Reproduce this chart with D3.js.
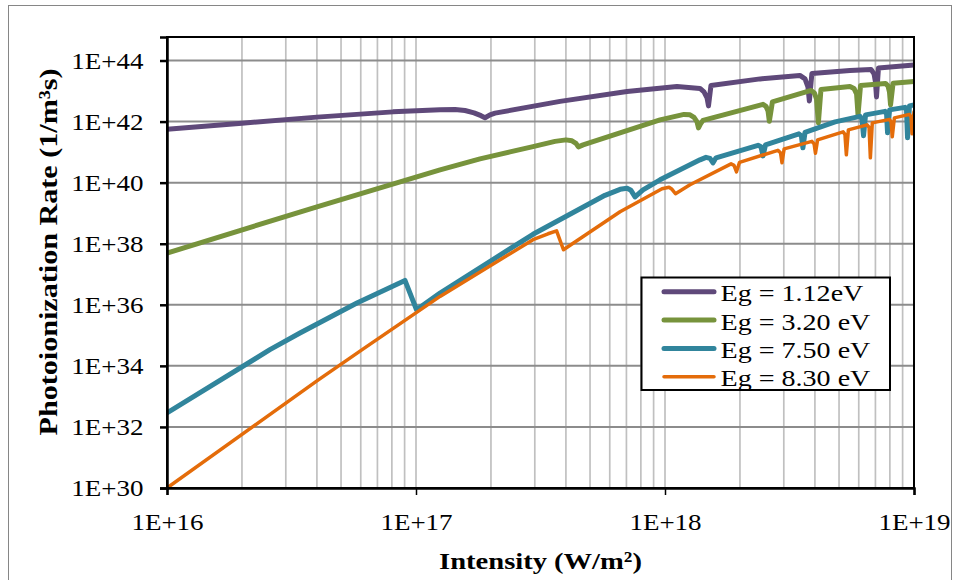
<!DOCTYPE html>
<html>
<head>
<meta charset="utf-8">
<script src="https://cdn.jsdelivr.net/npm/d3@7"></script>
<style>
  html, body { margin: 0; padding: 0; background: #ffffff; }
  svg { display: block; }
  text { font-family: "Liberation Serif", "Times New Roman", serif; fill: #000; }
</style>
</head>
<body>
<svg id="chart" width="960" height="580"></svg>
<script>
// ---- data ----------------------------------------------------------------
const seriesNames = ["Eg = 1.12eV", "Eg = 3.20 eV", "Eg = 7.50 eV", "Eg = 8.30 eV"];
const seriesColors = ["#5f497a", "#77933c", "#31859c", "#e46c0a"];

const xTickValues = [1e16, 1e17, 1e18, 1e19];
const xTickLabels = ["1E+16", "1E+17", "1E+18", "1E+19"];
const yTickValues = [1e30, 1e32, 1e34, 1e36, 1e38, 1e40, 1e42, 1e44];
const yTickLabels = ["1E+30", "1E+32", "1E+34", "1E+36", "1E+38", "1E+40", "1E+42", "1E+44"];

// Eg = 1.12 eV  (intensity in W/m^2, rate in 1/(m^3 s))
const intensity112 = [1e16, 2.0e16, 4.0e16, 8.08e16, 1.249e17, 1.435e17, 1.573e17, 1.71e17, 1.824e17, 1.893e17,
  1.983e17, 2.077e17, 3.79e17, 7.04e17, 1.117e18, 1.382e18, 1.434e18, 1.475e18, 1.495e18, 1.53e18,
  2.41e18, 3.48e18, 3.65e18, 3.75e18, 3.80e18, 3.89e18, 5.53e18, 6.72e18, 6.91e18, 7.0e18,
  7.07e18, 7.2e18, 1e19];
const rate112 = [5.65e41, 8.87e41, 1.40e42, 2.08e42, 2.45e42, 2.49e42, 2.31e42, 1.93e42, 1.56e42, 1.34e42,
  1.66e42, 1.89e42, 4.59e42, 9.6e42, 1.40e43, 1.22e43, 9.4e42, 5.97e42, 3.27e42, 1.53e43,
  2.50e43, 3.25e43, 2.50e43, 1.37e43, 4.76e42, 3.78e43, 4.74e43, 5.12e43, 3.65e43, 2.0e43,
  6.44e42, 5.73e43, 7.18e43];

// Eg = 3.20 eV
const intensity320 = [1e16, 4.0e16, 1.249e17, 1.807e17, 2.385e17, 2.95e17, 3.615e17, 4.0e17, 4.23e17, 4.39e17,
  4.49e17, 4.69e17, 5.14e17, 9.55e17, 1.192e18, 1.26e18, 1.308e18, 1.345e18, 1.363e18, 1.389e18,
  1.421e18, 2.475e18, 2.545e18, 2.593e18, 2.624e18, 2.70e18, 3.86e18, 3.98e18, 4.06e18, 4.13e18,
  4.23e18, 5.53e18, 5.74e18, 5.88e18, 5.96e18, 6.10e18, 7.68e18, 7.86e18, 7.97e18, 8.05e18,
  8.24e18, 1e19];
const rate320 = [4.94e37, 1.62e39, 2.63e40, 6.03e40, 1.02e41, 1.52e41, 2.25e41, 2.52e41, 2.34e41, 1.94e41,
  1.49e41, 1.73e41, 2.22e41, 1.14e42, 1.72e42, 1.66e42, 1.37e42, 9.8e41, 6.24e41, 8.41e41,
  1.10e42, 3.66e42, 3.15e42, 2.24e42, 1.02e42, 4.42e42, 1.05e43, 8.71e42, 5.54e42, 9.08e41,
  1.13e43, 1.42e43, 1.22e43, 8.07e42, 1.66e42, 1.53e43, 1.78e43, 1.48e43, 9.4e42, 3.52e42,
  1.81e43, 2.04e43];

// Eg = 7.50 eV
const intensity750 = [1e16, 2.59e16, 3.42e16, 5.79e16, 9.03e16, 1.005e17, 1.249e17, 2.95e17, 4.56e17, 5.74e17,
  6.6e17, 7.04e17, 7.30e17, 7.58e17, 8.16e17, 9.55e17, 1.382e18, 1.461e18, 1.516e18, 1.559e18,
  1.603e18, 2.363e18, 2.43e18, 2.475e18, 2.533e18, 3.45e18, 3.53e18, 3.58e18, 3.65e18, 4.82e18,
  6.07e18, 6.18e18, 6.27e18, 6.39e18, 7.65e18, 7.76e18, 7.83e18, 7.98e18, 9.2e18, 9.33e18,
  9.42e18, 9.59e18, 1e19];
const rate750 = [2.88e32, 3.39e34, 1.19e35, 1.14e36, 6.28e36, 6.9e35, 2.43e36, 2.04e38, 1.39e39, 3.85e39,
  6.05e39, 6.53e39, 5.61e39, 3.44e39, 5.83e39, 1.24e40, 5.58e40, 6.75e40, 6.25e40, 4.46e40,
  6.5e40, 1.67e41, 1.49e41, 7.55e40, 1.73e41, 3.96e41, 3.41e41, 1.38e41, 4.44e41, 9.8e41,
  1.48e42, 1.23e42, 3.41e41, 1.66e42, 2.16e42, 1.79e42, 4.28e41, 2.42e42, 2.92e42, 2.42e42,
  2.93e41, 3.27e42, 3.52e42];

// Eg = 8.30 eV
const intensity830 = [1e16, 4.04e16, 6.12e16, 1.249e17, 2.95e17, 3.39e17, 3.67e17, 3.91e17, 6.6e17, 9.73e17,
  1.038e18, 1.067e18, 1.102e18, 1.26e18, 1.842e18, 1.893e18, 1.937e18, 1.992e18, 2.84e18, 2.91e18,
  2.95e18, 3.01e18, 3.89e18, 3.97e18, 4.02e18, 4.10e18, 5.19e18, 5.28e18, 5.35e18, 5.45e18,
  6.48e18, 6.60e18, 6.68e18, 6.80e18, 7.98e18, 8.09e18, 8.18e18, 8.34e18, 9.59e18, 9.73e18,
  9.82e18, 1e19];
const rate830 = [1.0e30, 3.40e33, 3.52e34, 1.88e36, 1.35e38, 2.12e38, 2.65e38, 6.34e37, 1.11e39, 6.28e39,
  7.05e39, 6.05e39, 4.32e39, 8.5e39, 4.13e40, 3.69e40, 2.26e40, 4.63e40, 1.14e41, 9.47e40,
  4.46e40, 1.28e41, 2.25e41, 1.87e41, 9.12e40, 2.52e41, 4.61e41, 3.82e41, 8.15e40, 5.36e41,
  7.82e41, 6.47e41, 6.5e40, 9.08e41, 1.18e42, 9.8e41, 3.16e41, 1.32e42, 1.72e42, 1.43e42,
  3.96e41, 2.08e42];

const seriesIntensity = [intensity112, intensity320, intensity750, intensity830];
const seriesRate = [rate112, rate320, rate750, rate830];

// ---- layout --------------------------------------------------------------
const plot = { left: 167, right: 914, top: 37, bottom: 488 };
const textStretch = 1.19;   // glyphs in this chart are drawn slightly wide
const svg = d3.select("#chart");

// outer chart frame
svg.append("rect")
  .attr("x", 8.5).attr("y", 5.5).attr("width", 943).attr("height", 600)
  .attr("fill", "#fff").attr("stroke", "#868686").attr("stroke-width", 1);

const x = d3.scaleLog().domain([1e16, 1e19]).range([plot.left, plot.right]);
const y = d3.scaleLog().domain([1e30, Math.pow(10, 44.77)]).range([plot.bottom, plot.top]);

// vertical gridlines (every integer multiple within each decade)
const xGridValues = [];
for (let e = 16; e < 19; e++) {
  for (let k = 1; k <= 9; k++) {
    const v = k * Math.pow(10, e);
    if (v > 1e16) xGridValues.push(v);
  }
}
svg.append("g").selectAll("line").data(xGridValues).join("line")
  .attr("x1", d => x(d)).attr("x2", d => x(d))
  .attr("y1", plot.top).attr("y2", plot.bottom)
  .attr("stroke", "#c0c0c0").attr("stroke-width", 1.7);

// horizontal gridlines at major ticks
svg.append("g").selectAll("line").data(yTickValues.filter(v => v > 1e30)).join("line")
  .attr("x1", plot.left).attr("x2", plot.right)
  .attr("y1", d => y(d)).attr("y2", d => y(d))
  .attr("stroke", "#8c8c8c").attr("stroke-width", 2);

// series
svg.append("defs").append("clipPath").attr("id", "plotClip")
  .append("rect").attr("x", plot.left).attr("y", plot.top)
  .attr("width", plot.right - plot.left).attr("height", plot.bottom - plot.top);

const line = d3.line()
  .x(d => x(d[0])).y(d => y(d[1]))
  .curve(d3.curveLinear);

const lineWidths = [5, 5, 5, 3.5];
const gSeries = svg.append("g").attr("clip-path", "url(#plotClip)");
seriesNames.forEach((name, i) => {
  const pts = seriesIntensity[i].map((v, j) => [v, seriesRate[i][j]]);
  gSeries.append("path")
    .datum(pts)
    .attr("d", line)
    .attr("fill", "none")
    .attr("stroke", seriesColors[i])
    .attr("stroke-width", lineWidths[i])
    .attr("stroke-linejoin", "round")
    .attr("stroke-linecap", "round");
});

// plot border
svg.append("rect")
  .attr("x", plot.left).attr("y", plot.top)
  .attr("width", plot.right - plot.left).attr("height", plot.bottom - plot.top)
  .attr("fill", "none").attr("stroke", "#000").attr("stroke-width", 2);

// axes
const yAxis = d3.axisLeft(y).tickValues(yTickValues)
  .tickFormat((d, i) => yTickLabels[i]).tickSizeOuter(0).tickSize(7);
const gy = svg.append("g").attr("transform", `translate(${plot.left},0)`).call(yAxis);
gy.select(".domain").attr("stroke", "#000").attr("stroke-width", 2.5);
gy.selectAll(".tick line").attr("stroke", "#000").attr("stroke-width", 2.5);
gy.selectAll(".tick text")
  .attr("x", 0).attr("dy", "0.33em")
  .attr("transform", `translate(-23.5,0) scale(${textStretch},1)`)
  .style("font-size", "22.7px").attr("text-anchor", "end");

const xAxis = d3.axisBottom(x).tickValues(xTickValues)
  .tickFormat((d, i) => xTickLabels[i]).tickSizeOuter(0).tickSize(7);
const gx = svg.append("g").attr("transform", `translate(0,${plot.bottom})`).call(xAxis);
gx.select(".domain").attr("stroke", "#000").attr("stroke-width", 2.5);
gx.selectAll(".tick line").attr("stroke", "#000").attr("stroke-width", 1.5);
gx.selectAll(".tick text")
  .attr("y", 0).attr("dy", 0)
  .attr("transform", `translate(0,42) scale(${textStretch},1)`)
  .style("font-size", "22.7px");
svg.selectAll(".tick text").style("font-family", "'Liberation Serif', 'Times New Roman', serif").attr("fill", "#000");

// axis titles
svg.append("text")
  .attr("transform", `translate(${(plot.left + plot.right) / 2},569) scale(${textStretch},1)`)
  .attr("text-anchor", "middle")
  .style("font-size", "24px").style("font-weight", "bold")
  .text("Intensity (W/m²)");

svg.append("text")
  .attr("transform", `translate(57,252) rotate(-90)`)
  .attr("text-anchor", "middle")
  .attr("textLength", 367).attr("lengthAdjust", "spacingAndGlyphs")
  .style("font-size", "26px").style("font-weight", "bold")
  .text("Photoionization Rate (1/m³s)");

// legend
const legend = svg.append("g");
legend.append("rect")
  .attr("x", 641.5).attr("y", 277.5).attr("width", 248.5).attr("height", 112.5)
  .attr("fill", "#fff").attr("stroke", "#000").attr("stroke-width", 2);
const legendRows = legend.selectAll("g.row").data(seriesNames).join("g")
  .attr("class", "row")
  .attr("transform", (d, i) => `translate(0,${291.7 + i * 28.35})`);
legendRows.append("line")
  .attr("x1", 664).attr("x2", 714).attr("y1", 0).attr("y2", 0)
  .attr("stroke", (d, i) => seriesColors[i])
  .attr("stroke-width", (d, i) => lineWidths[i])
  .attr("stroke-linecap", "round");
legendRows.append("text")
  .attr("transform", `translate(720.5,9.5) scale(${textStretch},1)`)
  .style("font-size", "23.6px")
  .text(d => d);
</script>
</body>
</html>
